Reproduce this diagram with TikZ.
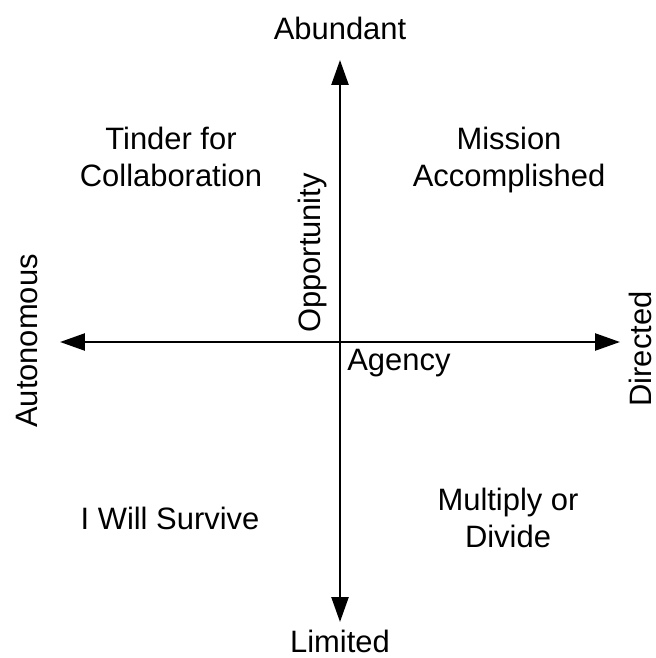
\documentclass[tikz,border=0pt]{standalone}
\usepackage{fontspec}
\setmainfont{Liberation Sans}
\usetikzlibrary{arrows.meta}

\tikzset{
	axis/.style={line width=1.4pt},
	lbl/.style={inner sep=0pt, font=\fontsize{17.6}{21}\selectfont},
	quad/.style={lbl, align=center}
}

\begin{document}
\begin{tikzpicture}[>={Triangle[length=0.5cm,width=0.34cm]}, x=0.02cm, y=-0.02cm]

	\useasboundingbox (0,0) rectangle (655,658);

	% axes
	\coordinate (north) at (340,60);
	\coordinate (south) at (340,622);
	\coordinate (west) at (60,342);
	\coordinate (east) at (620,342);
	\draw[axis,<->] (north) -- (south);
	\draw[axis,<->] (west) -- (east);

	% axis ends
	\node[lbl] (abundant) at (340,28) {Abundant};
	\node[lbl] (limited) at (340,641) {Limited};
	\node[lbl,rotate=90] (autonomous) at (27,341) {Autonomous};
	\node[lbl,rotate=90] (directed) at (640,349) {Directed};

	% axis names
	\node[lbl,rotate=90] (opportunity) at (312,253) {Opportunity};
	\node[lbl,anchor=west] (agency) at (347,363) {Agency};

	% quadrants
	\node[quad] (tinder) at (171,157) {Tinder for\\Collaboration};
	\node[quad] (mission) at (509,160) {Mission\\Accomplished};
	\node[quad] (survive) at (170,518) {I Will Survive};
	\node[quad] (multiply) at (508,518) {Multiply or\\Divide};

\end{tikzpicture}
\end{document}
